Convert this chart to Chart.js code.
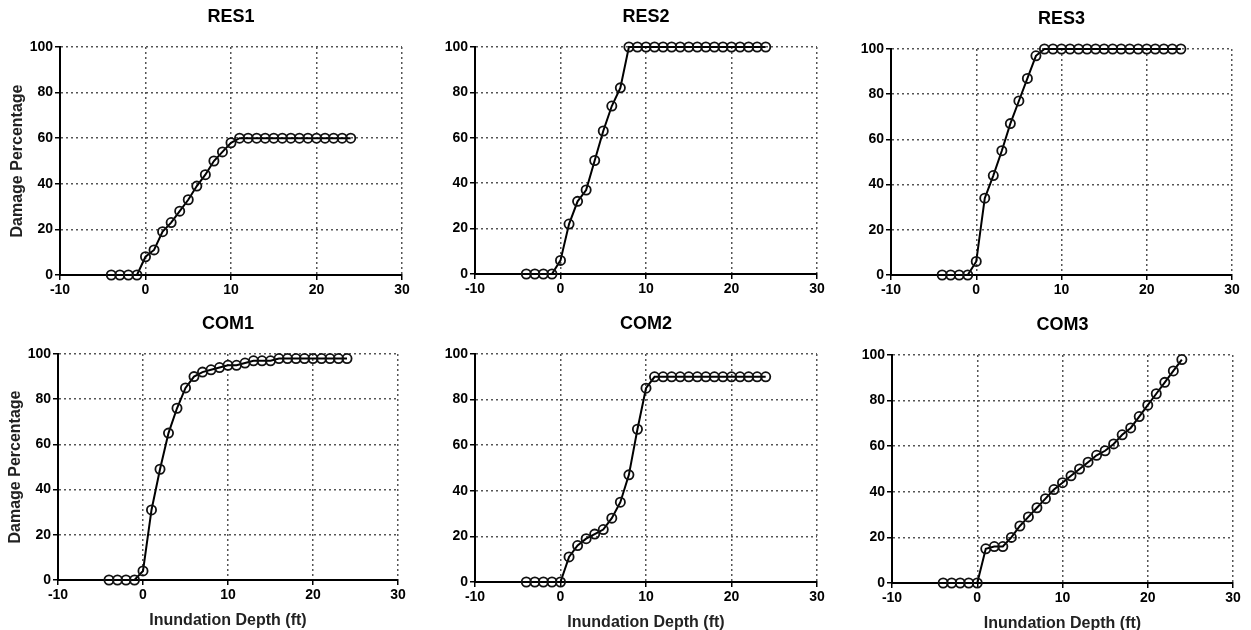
<!DOCTYPE html>
<html>
<head>
<meta charset="utf-8">
<script src="https://cdn.jsdelivr.net/npm/chart.js@4.4.1/dist/chart.umd.min.js"></script>
<style>
  html, body { margin: 0; padding: 0; background: #fff; width: 1251px; height: 630px; overflow: hidden; position: relative; }
  canvas { position: absolute; }
</style>
</head>
<body>
<script>
// Inundation depth (ft) and damage percentage per occupancy class
const depths = [-4, -3, -2, -1, 0, 1, 2, 3, 4, 5, 6, 7, 8, 9, 10, 11, 12, 13, 14, 15, 16, 17, 18, 19, 20, 21, 22, 23, 24];
const res1 = [0, 0, 0, 0, 8, 11, 19, 23, 28, 33, 39, 44, 50, 54, 58, 60, 60, 60, 60, 60, 60, 60, 60, 60, 60, 60, 60, 60, 60];
const res2 = [0, 0, 0, 0, 6, 22, 32, 37, 50, 63, 74, 82, 100, 100, 100, 100, 100, 100, 100, 100, 100, 100, 100, 100, 100, 100, 100, 100, 100];
const res3 = [0, 0, 0, 0, 6, 34, 44, 55, 67, 77, 87, 97, 100, 100, 100, 100, 100, 100, 100, 100, 100, 100, 100, 100, 100, 100, 100, 100, 100];
const com1 = [0, 0, 0, 0, 4, 31, 49, 65, 76, 85, 90, 92, 93, 94, 95, 95, 96, 97, 97, 97, 98, 98, 98, 98, 98, 98, 98, 98, 98];
const com2 = [0, 0, 0, 0, 0, 11, 16, 19, 21, 23, 28, 35, 47, 67, 85, 90, 90, 90, 90, 90, 90, 90, 90, 90, 90, 90, 90, 90, 90];
const com3 = [0, 0, 0, 0, 0, 15, 16, 16, 20, 25, 29, 33, 37, 41, 44, 47, 50, 53, 56, 58, 61, 65, 68, 73, 78, 83, 88, 93, 98];

const xTicks = [-10, 0, 10, 20, 30];
const yTicks = [0, 20, 40, 60, 80, 100];
const yLabel = "Damage Percentage";
const xLabel = "Inundation Depth (ft)";

// plot area placement of each panel on the page
const panels = [
  { name: "RES1", values: res1, left: 60,  top: 47,  w: 342, h: 228, yTitle: true,  xTitle: false },
  { name: "RES2", values: res2, left: 475, top: 47,  w: 342, h: 227, yTitle: false, xTitle: false },
  { name: "RES3", values: res3, left: 891, top: 49,  w: 341, h: 226, yTitle: false, xTitle: false },
  { name: "COM1", values: com1, left: 58,  top: 354, w: 340, h: 226, yTitle: true,  xTitle: true },
  { name: "COM2", values: com2, left: 475, top: 354, w: 342, h: 228, yTitle: false, xTitle: true },
  { name: "COM3", values: com3, left: 892, top: 355, w: 341, h: 228, yTitle: false, xTitle: true },
];

const FONT = "'Liberation Sans', Arial, sans-serif";
const Y_AXIS_W = 60;
const TITLE_H = 47;
const RIGHT_PAD = 15;

panels.forEach((p) => {
  const xAxisH = p.xTitle ? 52 : 28;
  const canvas = document.createElement("canvas");
  canvas.width = Y_AXIS_W + p.w + RIGHT_PAD;
  canvas.height = TITLE_H + p.h + xAxisH;
  canvas.style.left = (p.left - Y_AXIS_W) + "px";
  canvas.style.top = (p.top - TITLE_H) + "px";
  document.body.appendChild(canvas);

  new Chart(canvas.getContext("2d"), {
    type: "line",
    data: {
      datasets: [{
        data: depths.map((d, i) => ({ x: d, y: p.values[i] })),
        borderColor: "#000",
        borderWidth: 2,
        tension: 0,
        pointStyle: "circle",
        pointRadius: 4.6,
        pointBorderWidth: 1.8,
        pointBorderColor: "#111",
        pointBackgroundColor: "rgba(0,0,0,0)",
        clip: 8,
      }],
    },
    options: {
      responsive: false,
      animation: false,
      layout: { padding: { left: 0, right: RIGHT_PAD, top: 0, bottom: 0 } },
      plugins: {
        legend: { display: false },
        tooltip: { enabled: false },
        title: {
          display: true,
          text: p.name,
          fullSize: false,
          color: "#000",
          font: { family: FONT, size: 18, weight: "bold", lineHeight: 1.2 },
          padding: { top: 6, bottom: TITLE_H - 6 - 21.6 },
        },
      },
      scales: {
        x: {
          type: "linear",
          min: -10,
          max: 30,
          afterFit: (s) => { s.height = xAxisH; },
          afterBuildTicks: (s) => { s.ticks = xTicks.map((v) => ({ value: v })); },
          ticks: { color: "#000", font: { family: FONT, size: 14, weight: "bold" }, padding: 2, maxRotation: 0 },
          grid: { color: "#555", lineWidth: 1.5, tickColor: "#000", tickWidth: 1.5, tickLength: 5, tickBorderDash: [] },
          border: { color: "#000", width: 2, dash: [2, 3] },
          title: {
            display: p.xTitle,
            text: xLabel,
            color: "#222",
            font: { family: FONT, size: 16, weight: "bold", lineHeight: 1.2 },
            padding: { top: 0, bottom: 2 },
          },
        },
        y: {
          min: 0,
          max: 100,
          afterFit: (s) => { s.width = Y_AXIS_W; },
          afterBuildTicks: (s) => { s.ticks = yTicks.map((v) => ({ value: v })); },
          ticks: { color: "#000", font: { family: FONT, size: 14, weight: "bold" }, padding: 2 },
          grid: { color: "#555", lineWidth: 1.5, tickColor: "#000", tickWidth: 1.5, tickLength: 5, tickBorderDash: [] },
          border: { color: "#000", width: 2, dash: [2, 3] },
          title: {
            display: p.yTitle,
            text: yLabel,
            color: "#222",
            font: { family: FONT, size: 16, weight: "bold", lineHeight: 1.2 },
            padding: { top: 8, bottom: 0 },
          },
        },
      },
    },
  });
});
</script>
</body>
</html>
